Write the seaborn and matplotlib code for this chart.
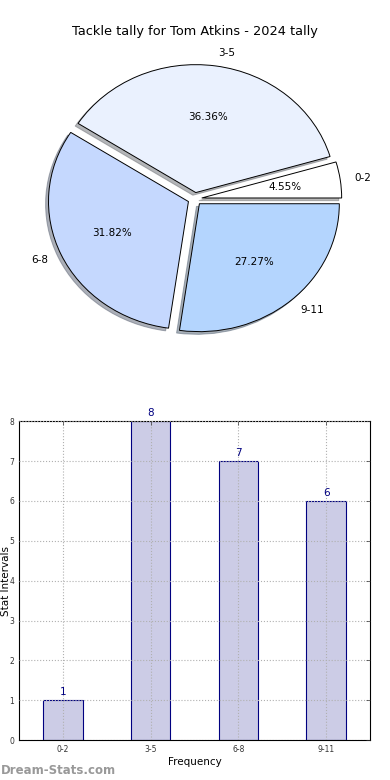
import matplotlib
matplotlib.use("Agg")
import matplotlib.pyplot as plt
import seaborn as sns
import pandas as pd

categories = ['0-2', '3-5', '6-8', '9-11']
counts = [1, 8, 7, 6]
pie_colors = ['#ffffff', '#eaf1fe', '#c5d8fe', '#b4d5fe']
title = 'Tackle tally for Tom Atkins - 2024 tally'

sns.set_style('white')
plt.rcParams['font.family'] = ['DejaVu Sans']
plt.rcParams['text.color'] = 'black'

fig = plt.figure(figsize=(3.9, 7.8), dpi=100)

# pie on top
ax_pie = fig.add_axes([0.051, 0.540, 0.897, 0.41])
ax_pie.pie(counts, labels=categories, colors=pie_colors, autopct='%1.2f%%',
           explode=[0.05] * len(counts),
           shadow={'ox': -0.015, 'oy': -0.015, 'shade': 0.55},
           startangle=0,
           wedgeprops={'edgecolor': 'black', 'linewidth': 0.7},
           textprops={'fontsize': 7.5, 'color': 'black'})
ax_pie.set_aspect('auto')
ax_pie.set_xlim(-1.25, 1.25)
ax_pie.set_ylim(-1.25, 1.25)
ax_pie.set_title(title, fontsize=9.3, pad=3, color='black')

# bar chart below
df = pd.DataFrame({'interval': categories, 'count': counts})
ax_bar = fig.add_axes([0.049, 0.051, 0.9, 0.409])
sns.barplot(data=df, x='interval', y='count', color='#ccccE6', saturation=1,
            edgecolor='#000080', linewidth=0.8, width=0.45, ax=ax_bar, zorder=2)
for i, v in enumerate(counts):
    ax_bar.text(i, v + 0.08, str(v), ha='center', va='bottom', color='#000080', fontsize=7.5)
ax_bar.set_xlim(-0.5, 3.5)
ax_bar.set_ylim(0, 8)
ax_bar.set_yticks(range(0, 9))
ax_bar.grid(True, linestyle=':', color='#b0b0b0', linewidth=0.8)
ax_bar.set_axisbelow(False)
ax_bar.tick_params(axis='both', labelsize=5.5, direction='in', top=True, right=True,
                   length=3, width=0.5, colors='#333333')
for s in ax_bar.spines.values():
    s.set_color('black')
    s.set_linewidth(0.8)
ax_bar.set_xlabel('Frequency', fontsize=7.5, labelpad=2, color='black')
ax_bar.set_ylabel('Stat Intervals', fontsize=7.5, color='black')
ax_bar.yaxis.set_label_coords(-0.024, 0.5)

fig.text(0.002, 0.008, 'Dream-Stats.com', fontsize=8.5, color='#999999', fontweight='bold')

fig.savefig('out.png', dpi=100)
